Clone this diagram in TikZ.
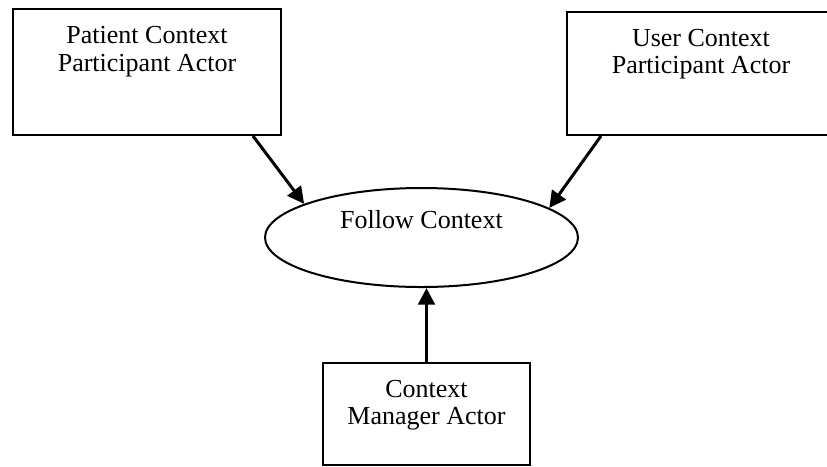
\documentclass[tikz,border=0pt]{standalone}
\usepackage{fontspec}
\setmainfont{Liberation Serif}
\usepackage{tikz}
\usetikzlibrary{positioning,calc,shapes.geometric,arrows.meta}

\begin{document}
\begin{tikzpicture}[x=0.45pt,y=-0.45pt,>={Triangle[length=7.5pt,width=7.5pt]},
		actor/.style={draw,line width=0.9pt,inner sep=0pt},
		usecase/.style={draw,ellipse,line width=0.9pt,inner sep=0pt},
		lbl/.style={font=\fontsize{11.7}{12.5}\selectfont,align=center,inner sep=0pt,anchor=north},
		link/.style={->,line width=1.35pt}]
	
	% sizes (in px of the reference)
	\def\u{0.45pt}
	
	% frame
	\useasboundingbox (0,0) rectangle (827,466);
	\clip (0,0) rectangle (827,466);
	
	% actors and use case
	\node[actor,minimum width=268*\u,minimum height=126*\u] (patient) at (147,72) {};
	\node[actor,minimum width=268*\u,minimum height=123*\u] (user) at (701,73.5) {};
	\node[usecase,minimum width=313*\u,minimum height=99*\u] (follow) at (421.5,237.5) {};
	\node[actor,minimum width=207*\u,minimum height=102*\u] (manager) at (426.5,414) {};
	
	% labels
	\node[lbl] (patientlbl) at ($(patient.north)+(0,18)$) {Patient Context\\Participant Actor};
	\node[lbl] (userlbl) at ($(user.north)+(0,17.5)$) {User Context\\Participant Actor};
	\node[lbl] (followlbl) at ($(follow.center)+(0,-27.3)$) {Follow Context};
	\node[lbl] (managerlbl) at ($(manager.north)+(0,17.5)$) {Context\\Manager Actor};
	
	% arrows
	\draw[link] ($(patient.south east)+(-29,0)$) -- (follow.164.5);
	\draw[link] ($(user.south west)+(35,0)$) -- (follow.13.5);
	\draw[link] (manager.north) -- (manager.north |- follow.south);
	
\end{tikzpicture}
\end{document}
